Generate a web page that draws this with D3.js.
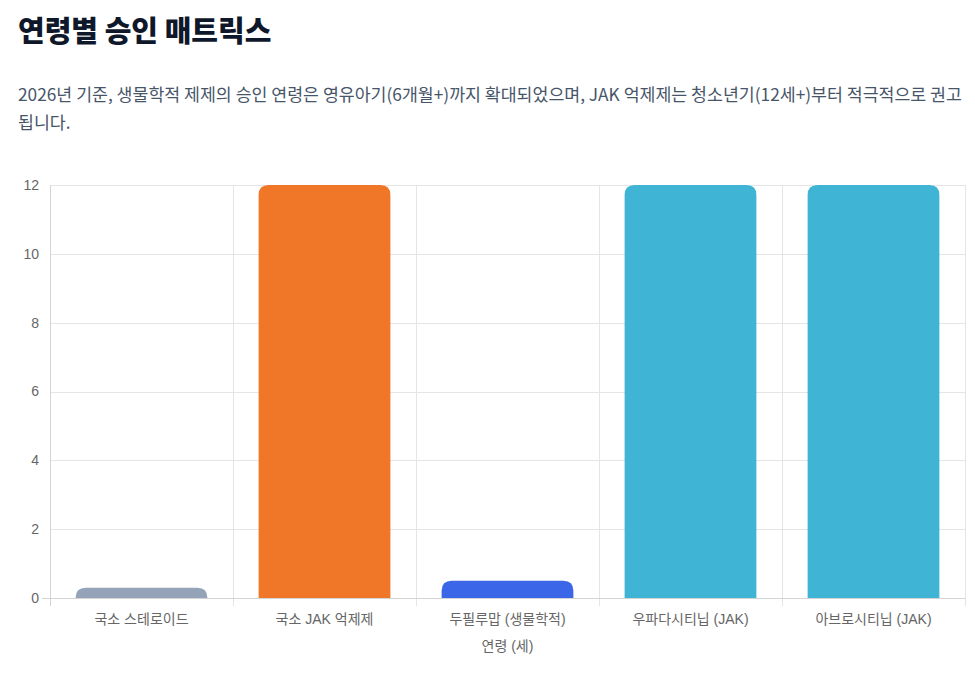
<!DOCTYPE html>
<meta charset="utf-8">
<head>
<style>
    body { margin: 0; background: #fff; }
    .title { font: 900 29px "Noto Sans CJK KR", sans-serif; fill: #0f172a; }
    .subtitle { font: 17.3px "Noto Sans CJK KR", sans-serif; fill: #475569; }
    .axis text { font: 14px "Liberation Sans", "Noto Sans CJK KR", sans-serif; fill: #666; }
    .axis path { display: none; }
    .axis line { stroke: #e5e5e5; shape-rendering: crispEdges; }
    .axis-title { font: 14px "Liberation Sans", "Noto Sans CJK KR", sans-serif; fill: #666; }
</style>
</head>
<body>
<script src="https://d3js.org/d3.v7.min.js"></script>
<script>
    var titleText = "연령별 승인 매트릭스";
    var subtitleLines = [
        "2026년 기준, 생물학적 제제의 승인 연령은 영유아기(6개월+)까지 확대되었으며, JAK 억제제는 청소년기(12세+)부터 적극적으로 권고",
        "됩니다."
    ];

    var categories = ["국소 스테로이드", "국소 JAK 억제제", "두필루맙 (생물학적)", "우파다시티닙 (JAK)", "아브로시티닙 (JAK)"];
    var ages = [0.3, 12, 0.5, 12, 12];
    var colors = ["#94a3b8", "#f07727", "#3b66e8", "#3fb4d4", "#3fb4d4"];
    var yTicks = [0, 2, 4, 6, 8, 10, 12];
    var xTitle = "연령 (세)";

    var W = 975, H = 674;
    var margin = {top: 185, right: 10, bottom: 76, left: 50},
        width = W - margin.left - margin.right,
        height = H - margin.top - margin.bottom;

    var svg = d3.select("body").append("svg")
        .attr("width", W)
        .attr("height", H);

    svg.append("text").attr("class", "title")
        .attr("x", 18).attr("y", 42)
        .text(titleText);

    svg.append("g").selectAll("text")
        .data(subtitleLines)
        .enter().append("text")
        .attr("class", "subtitle")
        .attr("x", 18)
        .attr("y", function (d, i) { return 101 + i * 28; })
        .text(function (d) { return d; });

    var g = svg.append("g")
        .attr("transform", "translate(" + margin.left + "," + margin.top + ")");

    var x = d3.scaleBand()
        .domain(categories)
        .range([0, width])
        .paddingInner(0)
        .paddingOuter(0);

    var y = d3.scaleLinear()
        .domain([0, 12])
        .range([height, 0]);

    // horizontal grid + y labels
    var yAxis = g.append("g").attr("class", "axis")
        .call(d3.axisLeft(y).tickValues(yTicks).tickSize(-width - 8).tickPadding(8))
        .attr("transform", "translate(-8,0)");
    yAxis.selectAll(".tick line").attr("x1", 8).attr("x2", width + 8);
    yAxis.selectAll(".tick text").attr("x", -3);

    // vertical grid at category boundaries
    var bounds = categories.map(function (c) { return x(c); }).concat([width]);
    g.append("g").attr("class", "axis").selectAll("line")
        .data(bounds)
        .enter().append("line")
        .attr("x1", function (d) { return d; })
        .attr("x2", function (d) { return d; })
        .attr("y1", 0)
        .attr("y2", height + 8);

    // axis lines
    g.append("line").attr("x1", 0).attr("x2", 0).attr("y1", 0).attr("y2", height + 8)
        .attr("stroke", "#d4d4d4").attr("shape-rendering", "crispEdges");
    g.append("line").attr("x1", -8).attr("x2", width).attr("y1", height).attr("y2", height)
        .attr("stroke", "#d4d4d4").attr("shape-rendering", "crispEdges");

    // x labels
    var xAxis = g.append("g").attr("class", "axis")
        .attr("transform", "translate(0," + height + ")")
        .call(d3.axisBottom(x).tickSize(0).tickPadding(16));
    xAxis.selectAll(".tick line").remove();

    g.append("text").attr("class", "axis-title")
        .attr("x", width / 2).attr("y", height + 53)
        .attr("text-anchor", "middle")
        .text(xTitle);

    // bars with rounded top corners
    var barW = x.bandwidth() * 0.72;
    var r = 10;
    function barPath(d, i) {
        var x0 = x(categories[i]) + (x.bandwidth() - barW) / 2,
            x1 = x0 + barW,
            yt = y(d),
            yb = y(0),
            rr = Math.min(r, (yb - yt), barW / 2);
        return "M" + x0 + "," + yb +
            "L" + x0 + "," + (yt + rr) +
            "Q" + x0 + "," + yt + " " + (x0 + rr) + "," + yt +
            "L" + (x1 - rr) + "," + yt +
            "Q" + x1 + "," + yt + " " + x1 + "," + (yt + rr) +
            "L" + x1 + "," + yb + "Z";
    }
    g.selectAll(".bar")
        .data(ages)
        .enter().append("path")
        .attr("class", "bar")
        .attr("d", barPath)
        .attr("fill", function (d, i) { return colors[i]; });
</script>
</body>
